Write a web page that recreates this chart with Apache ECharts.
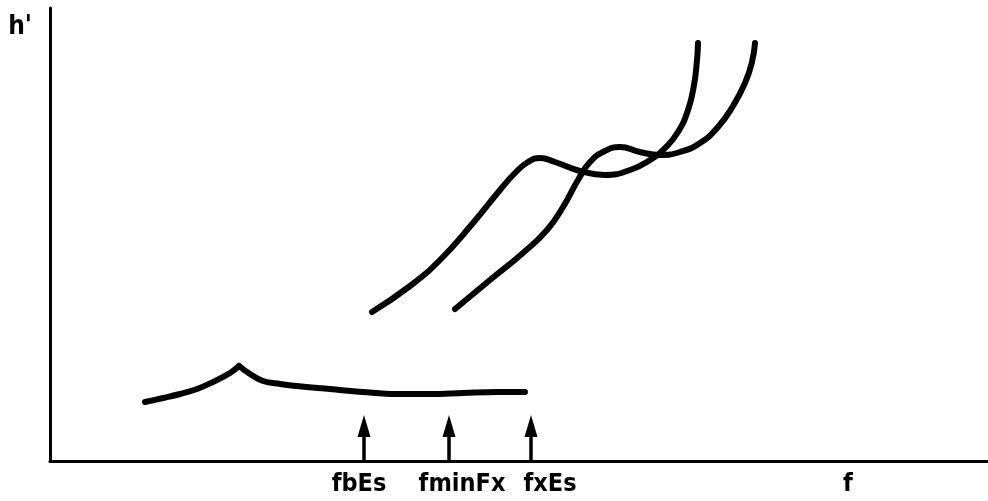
<!DOCTYPE html>
<html>
<head>
<meta charset="utf-8">
<script src="https://cdn.jsdelivr.net/npm/echarts@6/dist/echarts.min.js"></script>
<style>
  html, body { margin: 0; padding: 0; background: #ffffff; }
  #chart { width: 988px; height: 501px; }
</style>
</head>
<body>
<div id="chart"></div>
<script>
// ---- data (frequency f, virtual height h') in arbitrary sketch units ----
const esRise = [[95,59],[113,63],[130,67],[147,72],[163,79],[180,88],[189,95]];
const esFall = [[189,95],[200,87],[213,80],[230,77],[247,75],[280,72],[313,69],[347,67],[380,67],[413,68],[447,69],[475,69]];
const oTrace = [[322,149],[360,175],[390,201],[423,238],[450,271],[465,288],[478,299],[490,303],[505,299],[530,290],[555,286],[580,291],[600,301],[615,313],[628,329],[638,351],[644,376],[647,401],[648,418]];
const xTrace = [[405,152],[440,181],[473,208],[497,231],[513,254],[528,281],[540,299],[555,310],[570,314],[590,309],[610,306],[630,309],[650,318],[668,334],[683,355],[695,378],[702,399],[705,418]];
const markerFreqs = [314, 399, 481];      // fbEs, fminFx, fxEs arrows
const markerHeight = 35;
const tickLabels = ['fbEs', 'fminFx', 'fxEs', 'f'];
const tickPositions = [309, 412, 500, 798];
const freqMax = 938;
const heightMax = 453;

const chart = echarts.init(document.getElementById('chart'), null, { renderer: 'canvas' });

const curveStyle = { color: '#000', width: 6, cap: 'round', join: 'round' };
function curve(name, data, smooth) {
  return {
    name: name, type: 'line', data: data, smooth: smooth,
    showSymbol: false, symbol: 'none', silent: true,
    lineStyle: curveStyle, itemStyle: { color: '#000' }
  };
}

const option = {
  animation: false,
  backgroundColor: '#ffffff',
  grid: { left: 50, right: 0, top: 8, bottom: 40, containLabel: false },
  xAxis: {
    type: 'value', min: 0, max: freqMax,
    axisLine: { show: true, lineStyle: { color: '#000', width: 3 } },
    axisTick: { show: false },
    splitLine: { show: false },
    axisLabel: {
      customValues: tickPositions,
      formatter: function (v) {
        const i = tickPositions.indexOf(v);
        return i >= 0 ? tickLabels[i] : '';
      },
      color: '#000',
      fontFamily: 'DejaVu Sans Condensed',
      fontWeight: 'bold',
      fontSize: 25,
      margin: 11
    }
  },
  yAxis: {
    type: 'value', min: 0, max: heightMax,
    name: "h'",
    nameLocation: 'end',
    nameGap: -19,
    nameTextStyle: {
      color: '#000', fontFamily: 'DejaVu Sans Condensed', fontWeight: 'bold',
      fontSize: 26, align: 'right', verticalAlign: 'middle', padding: [0, 18, 0, 0]
    },
    axisLine: { show: true, lineStyle: { color: '#000', width: 3 } },
    axisTick: { show: false },
    splitLine: { show: false },
    axisLabel: { show: false }
  },
  series: [
    curve('Es rise', esRise, 0.4),
    curve('Es fall', esFall, 0.4),
    curve('o trace', oTrace, 0.5),
    curve('x trace', xTrace, 0.5),
    {
      name: 'markers', type: 'line', data: [], silent: true,
      markLine: {
        silent: true,
        symbol: ['none', 'triangle'],
        symbolSize: [13, 22],
        label: { show: false },
        lineStyle: { color: '#000', width: 3.5, type: 'solid' },
        emphasis: { disabled: true },
        data: markerFreqs.map(function (f) {
          return [{ coord: [f, 0] }, { coord: [f, markerHeight] }];
        })
      }
    }
  ]
};
chart.setOption(option);
</script>
</body>
</html>
